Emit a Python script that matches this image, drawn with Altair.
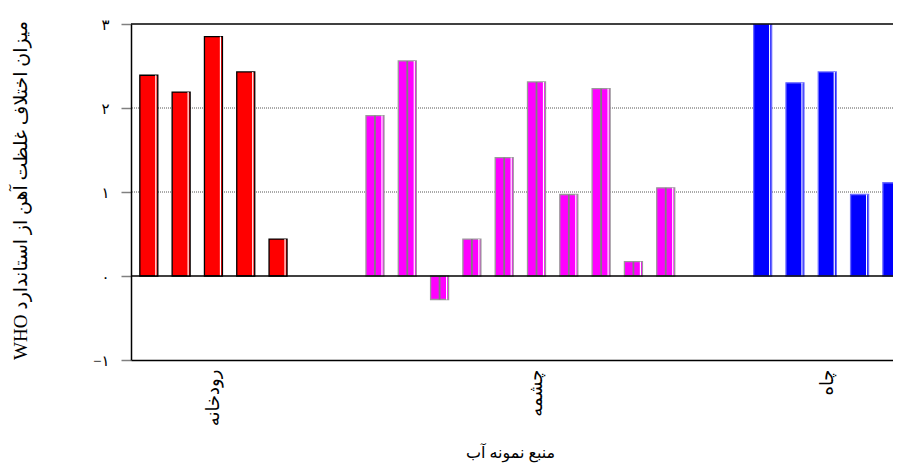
import altair as alt
import pandas as pd

# ---- data ----
groups = ["رودخانه", "چشمه", "چاه"]
river = [2.39, 2.19, 2.85, 2.43, 0.44]
spring = [1.91, 2.56, -0.28, 0.44, 1.41, 2.31, 0.97, 2.23, 0.17, 1.05]
well = [3.0, 2.30, 2.43, 0.97, 1.11]
series = [river, spring, well]
empty_slots_between = 2
label_slots = [2, 12, 21]
y_ticks = [-1, 0, 1, 2, 3]
y_tick_labels = ["−۱", "۰", "۱", "۲", "۳"]
grid_values = [1, 2]
y_title = "WHO  میزان اختلاف غلظت آهن از استاندارد"  # written so WHO is drawn at the bottom
x_title = "منبع نمونه آب"

fills = ["#FF0000", "#FF00FF", "#0000FF"]
strokes = ["#000000", "#9A9A9A", "#6A6AFF"]

rows = []
slot = 0
for g, vals in zip(groups, series):
    for v in vals:
        rows.append({"slot": slot, "value": v, "base": 0, "group": g})
        slot += 1
    slot += empty_slots_between
df = pd.DataFrame(rows)

W, H = 762, 336
FONT = "Liberation Serif, DejaVu Sans"

xscale = alt.Scale(domain=[-0.397, 22.88], nice=False, zero=False)
yscale = alt.Scale(domain=[-1, 3], nice=False, zero=False)

ylab_expr = " : ".join(
    f"datum.value == {v} ? '{l}'" for v, l in zip(y_ticks, y_tick_labels)
) + " : ''"
xlab_expr = " : ".join(
    f"datum.value == {s} ? '{g}'" for s, g in zip(label_slots, groups)
) + " : ''"

base = alt.Chart(df)

bars = base.mark_bar(size=18, clip=True, strokeWidth=1.3).encode(
    x=alt.X(
        "slot:Q",
        scale=xscale,
        axis=alt.Axis(
            values=label_slots,
            labelExpr=xlab_expr,
            labelAngle=270,
            labelFontSize=18,
            labelFont=FONT,
            labelColor="black",
            labelPadding=9,
            ticks=False,
            grid=False,
            domainColor="black",
            domainWidth=1.5,
            title=x_title,
            titleFont=FONT,
            titleFontSize=16,
            titleFontWeight="normal",
            titleColor="black",
            titleBaseline="alphabetic",
            titleY=97,
            titleX=379,
        ),
    ),
    y=alt.Y(
        "value:Q",
        scale=yscale,
        axis=alt.Axis(
            values=y_ticks,
            labelExpr=ylab_expr,
            labelFontSize=15,
            labelFont=FONT,
            labelColor="black",
            labelPadding=12,
            tickSize=10,
            tickColor="#808080",
            tickWidth=1.5,
            grid=False,
            domainColor="black",
            domainWidth=1.5,
            title=y_title,
            titleFont=FONT,
            titleFontSize=19,
            titleFontWeight="normal",
            titleColor="black",
            titleAngle=270,
            titleBaseline="middle",
            titleAlign="center",
            titleX=-111,
            titleY=166,
        ),
    ),
    y2="base:Q",
    fill=alt.Fill("group:N", scale=alt.Scale(domain=groups, range=fills), legend=None),
    stroke=alt.Stroke("group:N", scale=alt.Scale(domain=groups, range=strokes), legend=None),
)

center_line = base.transform_filter(alt.datum.group == groups[1]).mark_rule(
    color="#808080", strokeWidth=1.8, clip=True
).encode(x=alt.X("slot:Q", scale=xscale), y=alt.Y("value:Q", scale=yscale), y2="base:Q")

highlight = base.mark_rule(color="white", strokeWidth=1.2, xOffset=7, clip=True).encode(
    x=alt.X("slot:Q", scale=xscale), y=alt.Y("value:Q", scale=yscale), y2="base:Q"
)

grid = alt.Chart(pd.DataFrame({"v": grid_values})).mark_rule(
    color="#555555", strokeDash=[1, 1], strokeWidth=1
).encode(y=alt.Y("v:Q", scale=yscale))

zero = alt.Chart(pd.DataFrame({"v": [0]})).mark_rule(color="black", strokeWidth=1.5).encode(
    y=alt.Y("v:Q", scale=yscale)
)
top = alt.Chart(pd.DataFrame({"v": [y_ticks[-1]]})).mark_rule(color="black", strokeWidth=1.5).encode(
    y=alt.Y("v:Q", scale=yscale)
)

chart = (
    alt.layer(grid, bars, center_line, highlight, zero, top)
    .properties(
        width=W,
        height=H,
        autosize=alt.AutoSizeParams(type="none"),
        padding={"left": 123, "top": 16, "right": 0, "bottom": 103},
        background="white",
    )
    .configure_view(stroke=None)
)

chart.save("out.html", embed_options={"renderer": "svg", "actions": False})
